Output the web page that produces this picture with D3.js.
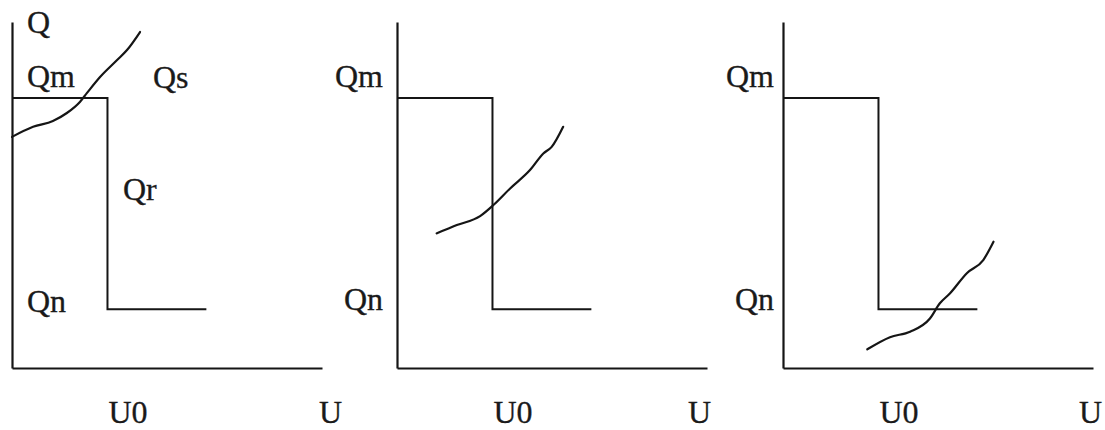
<!DOCTYPE html>
<html>
<head>
<meta charset="utf-8">
<script src="https://cdn.jsdelivr.net/npm/d3@7/dist/d3.min.js"></script>
<style>
  html, body { margin: 0; padding: 0; background: #fff; }
  svg text { font-family: "Liberation Serif", "DejaVu Serif", serif; font-size: 32px; fill: #1a1a1a;
             stroke: #1a1a1a; stroke-width: 0.3px; }
</style>
</head>
<body>
<svg id="chart" width="1105" height="430"></svg>
<script>
// ---- data (U and Q in arbitrary diagram units, axes 0..10) ----
const levelQm = 7.8;        // upper plateau
const levelQn = 1.7;        // lower plateau
const stepU0 = 3.08;        // step position U0
const stepEndU = 6.27;      // end of lower plateau

// Qs curves, one per panel
const qsPanel1U = [0, 0.68, 1.32, 1.77, 2.19, 2.42, 2.84, 3.39, 3.71, 4.13];
const qsPanel1Q = [6.68, 6.97, 7.14, 7.37, 7.69, 7.95, 8.41, 8.90, 9.19, 9.71];
const qsPanel2U = [1.28, 1.93, 2.68, 3.11, 3.65, 4.29, 4.72, 4.99, 5.36];
const qsPanel2Q = [3.89, 4.13, 4.39, 4.71, 5.19, 5.72, 6.20, 6.39, 6.97];
const qsPanel3U = [2.72, 3.45, 4.10, 4.74, 5.06, 5.39, 5.93, 6.46, 6.79];
const qsPanel3Q = [0.54, 0.89, 1.05, 1.43, 1.87, 2.16, 2.74, 3.12, 3.65];

const axisLabelX = ["U0", "U"];
const axisLabelY = ["Qm", "Qn"];
const panel1Extra = ["Q", "Qs", "Qr"];

// ---- layout ----
const panels = [
  { left: 12,  u: qsPanel1U, q: qsPanel1Q, yLabelAnchor: "start", yLabelX: 27, uLabelDx: -3 },
  { left: 397, u: qsPanel2U, q: qsPanel2Q, yLabelAnchor: "end",   yLabelX: 383, uLabelDx: -19 },
  { left: 783, u: qsPanel3U, q: qsPanel3Q, yLabelAnchor: "end",   yLabelX: 774, uLabelDx: -14 }
];
const panelW = 310, plotTop = 22, plotBottom = 368;
const ink = "#151515";

const svg = d3.select("#chart");

panels.forEach((p, i) => {
  const x = d3.scaleLinear().domain([0, 10]).range([p.left, p.left + panelW]);
  const y = d3.scaleLinear().domain([0, 10]).range([plotBottom, plotTop]);
  const g = svg.append("g");

  // axes (no ticks, domain line only)
  g.append("g").attr("transform", `translate(0,${plotBottom})`)
    .call(d3.axisBottom(x).tickValues([]).tickSizeOuter(0));
  g.append("g").attr("transform", `translate(${p.left},0)`)
    .call(d3.axisLeft(y).tickValues([]).tickSizeOuter(0));
  g.selectAll(".domain").attr("stroke", ink).attr("stroke-width", 2.2);

  // step characteristic Qm -> Qn at U0
  const step = [[0, levelQm], [stepU0, levelQm], [stepU0, levelQn], [stepEndU, levelQn]];
  g.append("path")
    .attr("d", d3.line().x(d => x(d[0])).y(d => y(d[1]))(step))
    .attr("fill", "none").attr("stroke", ink).attr("stroke-width", 2);

  // Qs curve
  const pts = p.u.map((u, k) => [u, p.q[k]]);
  g.append("path")
    .attr("d", d3.line().x(d => x(d[0])).y(d => y(d[1])).curve(d3.curveMonotoneX)(pts))
    .attr("fill", "none").attr("stroke", ink).attr("stroke-width", 2.2)
    .attr("stroke-linecap", "round");

  // axis labels
  g.append("text").attr("x", x(stepU0) + 1).attr("y", 423).text(axisLabelX[0]);
  g.append("text").attr("x", x(10) + p.uLabelDx).attr("y", 423).text(axisLabelX[1]);
  g.append("text").attr("x", p.yLabelX).attr("y", y(levelQm) - 11)
    .attr("text-anchor", p.yLabelAnchor).text(axisLabelY[0]);
  g.append("text").attr("x", p.yLabelX).attr("y", y(levelQn) - 2 + (i === 0 ? 5 : 3))
    .attr("text-anchor", p.yLabelAnchor).text(axisLabelY[1]);

  if (i === 0) {
    g.append("text").attr("x", 27).attr("y", 33).text(panel1Extra[0]);
    g.append("text").attr("x", 153).attr("y", 88).text(panel1Extra[1]);
    g.append("text").attr("x", 123).attr("y", 200).text(panel1Extra[2]);
  }
});
</script>
</body>
</html>
